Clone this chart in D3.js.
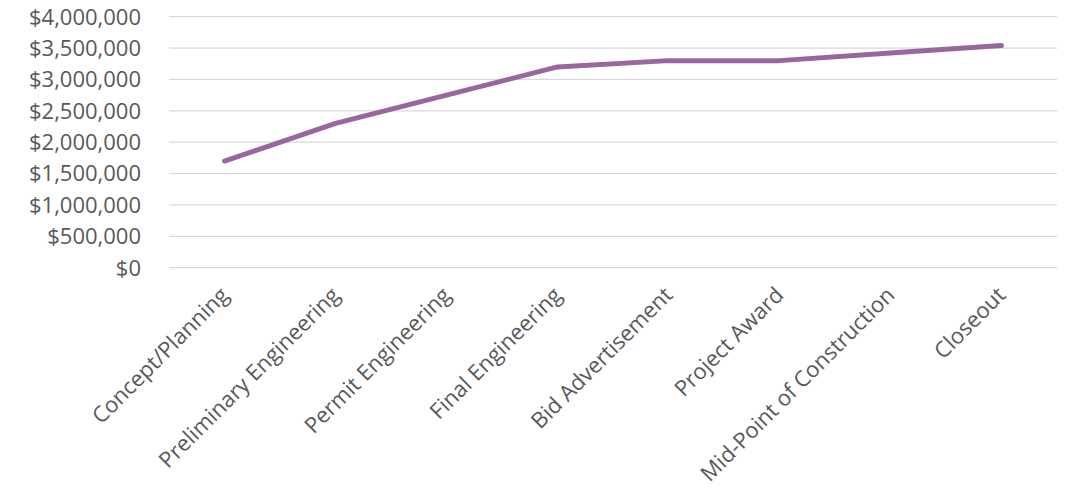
<!DOCTYPE html>
<html><head><meta charset="utf-8">
<script src="https://cdn.jsdelivr.net/npm/d3@7"></script>
<style>body{margin:0;background:#fff}svg{display:block}</style>
</head><body>
<svg id="chart" width="1066" height="488"></svg>
<script>
const categories = ["Concept/Planning","Preliminary Engineering","Permit Engineering","Final Engineering","Bid Advertisement","Project Award","Mid-Point of Construction","Closeout"];
const costValues = [1700000, 2300000, 2750000, 3200000, 3300000, 3300000, 3420000, 3540000];
const yTicks = [0, 500000, 1000000, 1500000, 2000000, 2500000, 3000000, 3500000, 4000000];

(function () {
const svg = d3.select("#chart");
const plotLeft = 169, plotRight = 1057, plotTop = 16.7, plotBottom = 267.7;
const font = "'Open Sans', 'Liberation Sans', Arial, sans-serif";
const textColor = "#595959";
const fontSize = 22;

const x = d3.scaleBand().domain(categories).range([plotLeft, plotRight]);
const y = d3.scaleLinear().domain([0, 4000000]).range([plotBottom, plotTop]);
const fmt = v => "$" + d3.format(",")(v);

// gridlines
svg.append("g").selectAll("line").data(yTicks).join("line")
  .attr("x1", plotLeft).attr("x2", plotRight)
  .attr("y1", d => y(d)).attr("y2", d => y(d))
  .attr("stroke", "#d9d9d9").attr("stroke-width", 1.3);

// y labels
svg.append("g").selectAll("text").data(yTicks).join("text")
  .attr("x", 141).attr("y", d => y(d)).attr("dy", "0.36em")
  .attr("text-anchor", "end")
  .attr("font-family", font).attr("font-size", fontSize).attr("fill", textColor)
  .text(fmt);

// x labels (rotated)
const cx = c => x(c) + x.bandwidth() / 2;
svg.append("g").selectAll("text").data(categories).join("text")
  .attr("transform", d => `translate(${cx(d)},${291}) rotate(-45)`)
  .attr("text-anchor", "end").attr("dy", "0.35em")
  .attr("font-family", font).attr("font-size", fontSize).attr("fill", textColor)
  .text(d => d);

// line
const line = d3.line().x((d, i) => cx(categories[i])).y(d => y(d));
svg.append("path").datum(costValues)
  .attr("d", line).attr("fill", "none")
  .attr("stroke", "#99669f").attr("stroke-width", 5)
  .attr("stroke-linecap", "round").attr("stroke-linejoin", "round");
})();
</script>
</body></html>
